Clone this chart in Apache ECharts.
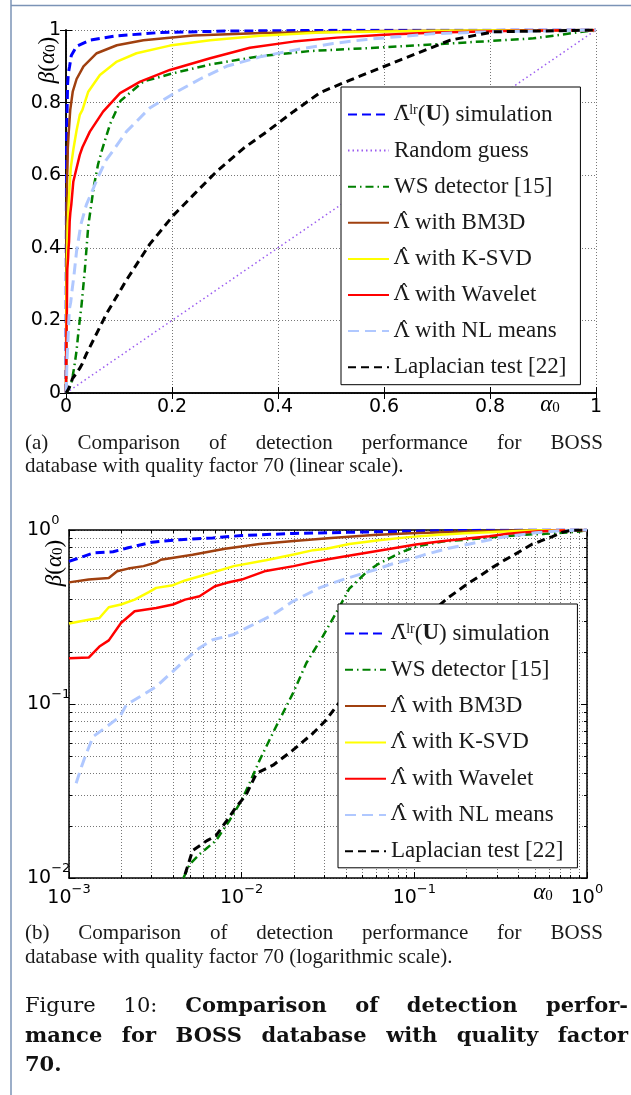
<!DOCTYPE html>
<html>
<head>
<meta charset="utf-8">
<title>Figure 10</title>
<script src="https://cdn.jsdelivr.net/npm/echarts@6/dist/echarts.min.js"></script>
<style>
html, body { margin: 0; padding: 0; background: #fff; }
#chart { position: absolute; left: 0; top: 0; width: 631px; height: 1095px; }
.cap { position: absolute; left: 25px; width: 578px; font-family: "Liberation Serif", serif; font-size: 21px; line-height: 23px; color: #1a1a1a; }
.just { text-align: justify; text-align-last: justify; }
.fig { position: absolute; left: 25px; width: 603px; font-family: "DejaVu Serif", serif; font-size: 21px; line-height: 29px; color: #111; }
.fig b { font-weight: bold; }
</style>
</head>
<body>
<div id="chart"></div>
<div class="cap just" style="top:431px">(a) Comparison of detection performance for BOSS</div>
<div class="cap" style="top:454px">database with quality factor 70 (linear scale).</div>
<div class="cap just" style="top:921px">(b) Comparison of detection performance for BOSS</div>
<div class="cap" style="top:945px">database with quality factor 70 (logarithmic scale).</div>
<div class="fig just" style="top:990px">Figure 10: <b>Comparison of detection perfor-</b></div>
<div class="fig just" style="top:1020px"><b>mance for BOSS database with quality factor</b></div>
<div class="fig" style="top:1049px"><b>70.</b></div>
<script>
// ROC curves, [alpha0, beta(alpha0)]
var simData = [[0,0],[0.001,0.66],[0.0014,0.74],[0.0018,0.75],[0.0022,0.79],[0.003,0.85],[0.0044,0.88],[0.0068,0.90],[0.01,0.93],[0.02,0.955],[0.045,0.972],[0.096,0.984],[0.177,0.993],[0.3,0.997],[0.5,0.999],[1,1]];
var randData = [[0,0],[1,1]];
var wsData = [[0,0],[0.0046,0.01],[0.005,0.012],[0.0057,0.0137],[0.0071,0.0164],[0.0085,0.0214],[0.01,0.028],[0.0111,0.035],[0.0127,0.0475],[0.0158,0.074],[0.0198,0.115],[0.0237,0.172],[0.0295,0.245],[0.0352,0.333],[0.042,0.46],[0.0526,0.57],[0.0605,0.63],[0.067,0.665],[0.083,0.74],[0.103,0.805],[0.146,0.858],[0.2,0.88],[0.272,0.905],[0.366,0.928],[0.46,0.942],[0.567,0.95],[0.725,0.963],[0.882,0.977],[1,1]];
var bm3dData = [[0,0],[0.001,0.5],[0.0013,0.52],[0.0017,0.53],[0.0019,0.58],[0.0022,0.60],[0.0027,0.62],[0.0032,0.65],[0.0034,0.675],[0.0052,0.72],[0.008,0.78],[0.0127,0.83],[0.02,0.865],[0.033,0.90],[0.058,0.936],[0.096,0.958],[0.146,0.972],[0.24,0.985],[0.37,0.992],[0.6,0.997],[1,1]];
var ksvdData = [[0,0],[0.001,0.29],[0.0013,0.305],[0.0015,0.312],[0.0017,0.36],[0.002,0.373],[0.0024,0.398],[0.0029,0.44],[0.0032,0.465],[0.004,0.482],[0.0047,0.513],[0.0065,0.562],[0.009,0.62],[0.0138,0.67],[0.02,0.724],[0.026,0.766],[0.031,0.78],[0.042,0.83],[0.064,0.876],[0.096,0.913],[0.133,0.936],[0.196,0.957],[0.272,0.972],[0.366,0.984],[0.48,0.993],[0.7,0.998],[1,1]];
var wavData = [[0,0],[0.001,0.183],[0.0013,0.185],[0.0015,0.214],[0.0017,0.232],[0.002,0.292],[0.0024,0.341],[0.0032,0.356],[0.004,0.373],[0.0047,0.398],[0.0057,0.416],[0.007,0.475],[0.0082,0.497],[0.01,0.519],[0.0138,0.582],[0.02,0.62],[0.026,0.656],[0.031,0.677],[0.045,0.72],[0.07,0.775],[0.102,0.826],[0.14,0.858],[0.196,0.89],[0.272,0.922],[0.347,0.951],[0.429,0.968],[0.511,0.979],[0.6,0.987],[0.7,0.993],[0.85,0.998],[1,1]];
var nlData = [[0,0],[0.0011,0.035],[0.00118,0.0435],[0.00126,0.052],[0.00138,0.065],[0.00165,0.074],[0.00197,0.0845],[0.00215,0.099],[0.00257,0.11],[0.0032,0.126],[0.004,0.154],[0.0047,0.179],[0.0057,0.21],[0.0068,0.234],[0.0089,0.25],[0.0111,0.279],[0.0152,0.326],[0.0198,0.389],[0.0282,0.465],[0.0385,0.519],[0.06,0.593],[0.075,0.64],[0.0935,0.677],[0.114,0.72],[0.158,0.785],[0.209,0.83],[0.253,0.865],[0.303,0.9],[0.366,0.926],[0.44,0.947],[0.504,0.963],[0.567,0.974],[0.693,0.99],[0.806,0.995],[1,1]];
var lapData = [[0,0],[0.0047,0.0105],[0.0052,0.0144],[0.0063,0.0164],[0.0071,0.0175],[0.0082,0.0214],[0.0093,0.0256],[0.0106,0.03],[0.0122,0.04],[0.0152,0.0445],[0.0198,0.0543],[0.0258,0.0677],[0.0309,0.081],[0.0352,0.0966],[0.039,0.109],[0.077,0.22],[0.114,0.311],[0.158,0.41],[0.203,0.49],[0.24,0.545],[0.284,0.61],[0.335,0.674],[0.379,0.72],[0.429,0.775],[0.48,0.828],[0.536,0.862],[0.63,0.917],[0.725,0.972],[0.806,0.995],[1,1]];

// minor log ticks (mantissas) and decades of each log axis
var minorMant = [2,3,4,5,6,7,8,9];
var xDecades = [0.001, 0.01, 0.1];
var yDecades = [0.01, 0.1];

var serif = '"Liberation Serif", "DejaVu Serif", serif';
var sans = '"DejaVu Sans", sans-serif';

var L_BAR = '\u039B\u0304';
var L_HAT = '\u039B\u0302';
var legendText = {
    sim: '{L|' + L_BAR + '}{sup|lr}{t|(}{bf|U}{t|) simulation}',
    rand: '{t|Random guess}',
    ws: '{t|WS detector [15]}',
    bm3d: '{L|' + L_HAT + '}{t| with BM3D}',
    ksvd: '{L|' + L_HAT + '}{t| with K-SVD}',
    wav: '{L|' + L_HAT + '}{t| with Wavelet}',
    nl: '{L|' + L_HAT + '}{t| with NL means}',
    lap: '{t|Laplacian test [22]}'
};
var legendRich = {
    t: {fontFamily: serif, fontSize: 23, color: '#1a1a1a', lineHeight: 26},
    bf: {fontFamily: serif, fontSize: 23, fontWeight: 'bold', color: '#1a1a1a', lineHeight: 26},
    L: {fontFamily: '"DejaVu Serif", serif', fontSize: 21, color: '#1a1a1a', lineHeight: 26},
    sup: {fontFamily: serif, fontSize: 14, color: '#1a1a1a', padding: [0, 0, 9, 0]}
};

var styles = {
    sim: {color: '#0000ff', width: 3, type: [9, 5]},
    rand: {color: '#9b5cf0', width: 1.5, type: [1.5, 3]},
    ws: {color: '#008000', width: 2.5, type: [8, 4, 1.5, 4]},
    bm3d: {color: '#a0400f', width: 2.5, type: 'solid'},
    ksvd: {color: '#ffff00', width: 2.5, type: 'solid'},
    wav: {color: '#ff0000', width: 2.5, type: 'solid'},
    nl: {color: '#b0c8ff', width: 3, type: [11, 6]},
    lap: {color: '#000000', width: 3, type: [8, 5]}
};
var dataOf = {sim: simData, rand: randData, ws: wsData, bm3d: bm3dData, ksvd: ksvdData, wav: wavData, nl: nlData, lap: lapData};

function positive(d) {
    return d.filter(function (p) { return p[0] > 0 && p[1] > 0; });
}

function makeSeries(key, xi, yi, data) {
    var s = styles[key];
    return {
        name: key, type: 'line', xAxisIndex: xi, yAxisIndex: yi,
        data: data, symbol: 'none', showSymbol: false, clip: true,
        color: s.color,
        lineStyle: {color: s.color, width: s.width, type: s.type},
        animation: false, silent: true
    };
}

var minorX = [], minorY = [];
xDecades.forEach(function (d) { minorMant.forEach(function (m) { minorX.push([d * m, 0.1]); }); });
yDecades.forEach(function (d) { minorMant.forEach(function (m) { minorY.push([0.01, d * m]); }); });

var gridDot = {color: '#777', width: 1, type: [1, 2]};
var minorStyle = {stroke: '#777', lineWidth: 1, lineDash: [1, 2]};
var tickStyle = {stroke: '#000', lineWidth: 1};

function renderMinorX(params, api) {
    var cs = params.coordSys;
    var x = Math.round(api.coord([api.value(0), api.value(1)])[0]) + 0.5;
    var top = cs.y, bot = cs.y + cs.height;
    return {type: 'group', children: [
        {type: 'line', shape: {x1: x, y1: top, x2: x, y2: bot}, style: minorStyle},
        {type: 'line', shape: {x1: x, y1: bot, x2: x, y2: bot - 3}, style: tickStyle},
        {type: 'line', shape: {x1: x, y1: top, x2: x, y2: top + 3}, style: tickStyle}
    ]};
}
function renderMinorY(params, api) {
    var cs = params.coordSys;
    var y = Math.round(api.coord([api.value(0), api.value(1)])[1]) + 0.5;
    var left = cs.x, right = cs.x + cs.width;
    return {type: 'group', children: [
        {type: 'line', shape: {x1: left, y1: y, x2: right, y2: y}, style: minorStyle},
        {type: 'line', shape: {x1: left, y1: y, x2: left + 3, y2: y}, style: tickStyle},
        {type: 'line', shape: {x1: right, y1: y, x2: right - 3, y2: y}, style: tickStyle}
    ]};
}

function powLabel(v) {
    var e = Math.round(Math.log(v) / Math.LN10);
    return '{b|10}{s|' + (e < 0 ? '\u2212' + (-e) : e) + '}';
}
var powRich = {
    b: {fontFamily: sans, fontSize: 19, color: '#000'},
    s: {fontFamily: sans, fontSize: 13, color: '#000', lineHeight: 13, padding: [0, 0, 18, 0]}
};

var axisLine = {show: true, lineStyle: {color: '#000', width: 1.5}};
var inTick = {show: true, inside: true, length: 6, lineStyle: {color: '#000', width: 1}};
var numLabel = {show: true, fontFamily: sans, fontSize: 19, color: '#000', margin: 5};

var keysTop = ['sim', 'rand', 'ws', 'bm3d', 'ksvd', 'wav', 'nl', 'lap'];
var keysBot = ['sim', 'ws', 'bm3d', 'ksvd', 'wav', 'nl', 'lap'];

var series = [];
series.push({type: 'custom', xAxisIndex: 2, yAxisIndex: 2, data: minorX, renderItem: renderMinorX, z: 1, silent: true, animation: false, encode: {x: 0, y: 1}});
series.push({type: 'custom', xAxisIndex: 2, yAxisIndex: 2, data: minorY, renderItem: renderMinorY, z: 1, silent: true, animation: false, encode: {x: 0, y: 1}});
keysTop.forEach(function (k) { series.push(makeSeries(k, 0, 0, dataOf[k])); });
keysBot.forEach(function (k) { series.push(makeSeries(k, 2, 2, positive(dataOf[k]))); });

var betaRich = {
    i: {fontFamily: serif, fontStyle: 'italic', fontSize: 23, color: '#333', lineHeight: 26},
    r: {fontFamily: serif, fontSize: 23, color: '#333', lineHeight: 26},
    sub: {fontFamily: serif, fontSize: 15, color: '#333', lineHeight: 15, padding: [7, 0, 0, 0]}
};
var betaText = '{i|\u03B2}{r|(}{i|\u03B1}{sub|0}{r|)}';
var alphaText = '{i|\u03B1}{sub|0}';

function legendOpt(left, top, pad, gap, keys) {
    return {
        orient: 'vertical', left: left, top: top, padding: pad, itemGap: gap,
        itemWidth: 41, itemHeight: 14, data: keys,
        backgroundColor: '#fff', borderColor: '#000', borderWidth: 1,
        itemStyle: {opacity: 0}, selectedMode: false,
        formatter: function (n) { return legendText[n]; },
        textStyle: {rich: legendRich}
    };
}

var option = {
    backgroundColor: '#fff',
    animation: false,
    textStyle: {fontFamily: sans},
    grid: [
        {left: 66, top: 30, width: 530, height: 363, outerBoundsMode: 'none'},
        {left: 69, top: 530, width: 518, height: 348, outerBoundsMode: 'none'}
    ],
    xAxis: [
        {type: 'value', gridIndex: 0, position: 'bottom', min: 0, max: 1, interval: 0.2,
         axisLine: axisLine, axisTick: inTick, axisLabel: numLabel,
         splitLine: {show: true, lineStyle: gridDot}},
        {type: 'value', gridIndex: 0, position: 'top', min: 0, max: 1, interval: 0.2,
         axisLine: axisLine, axisTick: inTick, axisLabel: {show: false}, splitLine: {show: false}},
        {type: 'log', logBase: 10, gridIndex: 1, position: 'bottom', min: 0.001, max: 1,
         axisLine: axisLine, axisTick: inTick,
         axisLabel: {show: true, formatter: powLabel, rich: powRich, margin: 11},
         splitLine: {show: true, lineStyle: gridDot}, minorTick: {show: false}},
        {type: 'log', logBase: 10, gridIndex: 1, position: 'top', min: 0.001, max: 1,
         axisLine: axisLine, axisTick: inTick, axisLabel: {show: false}, splitLine: {show: false}}
    ],
    yAxis: [
        {type: 'value', gridIndex: 0, position: 'left', min: 0, max: 1, interval: 0.2,
         axisLine: axisLine, axisTick: inTick, axisLabel: numLabel,
         splitLine: {show: true, lineStyle: gridDot}},
        {type: 'value', gridIndex: 0, position: 'right', min: 0, max: 1, interval: 0.2,
         axisLine: axisLine, axisTick: inTick, axisLabel: {show: false}, splitLine: {show: false}},
        {type: 'log', logBase: 10, gridIndex: 1, position: 'left', min: 0.01, max: 1,
         axisLine: axisLine, axisTick: inTick,
         axisLabel: {show: true, formatter: powLabel, rich: powRich, align: 'left', margin: 42},
         splitLine: {show: true, lineStyle: gridDot}},
        {type: 'log', logBase: 10, gridIndex: 1, position: 'right', min: 0.01, max: 1,
         axisLine: axisLine, axisTick: inTick, axisLabel: {show: false}, splitLine: {show: false}}
    ],
    legend: [
        legendOpt(341, 87, [16, 14, 6, 6], 13.1, keysTop),
        legendOpt(338, 604, [18, 14, 5, 6], 13.3, keysBot)
    ],
    graphic: [
        {type: 'line', shape: {x1: 11, y1: 0, x2: 11, y2: 1095}, style: {stroke: '#7b93b6', lineWidth: 1.5}, silent: true},
        {type: 'line', shape: {x1: 11, y1: 5.5, x2: 631, y2: 5.5}, style: {stroke: '#7b93b6', lineWidth: 1.5}, silent: true},
        {type: 'text', x: 48, y: 60, rotation: Math.PI / 2,
         style: {text: betaText, rich: betaRich, align: 'center', verticalAlign: 'middle'}},
        {type: 'text', x: 55, y: 563, rotation: Math.PI / 2,
         style: {text: betaText, rich: betaRich, align: 'center', verticalAlign: 'middle'}},
        {type: 'text', x: 550, y: 405,
         style: {text: alphaText, rich: betaRich, align: 'center', verticalAlign: 'middle'}},
        {type: 'text', x: 543, y: 893,
         style: {text: alphaText, rich: betaRich, align: 'center', verticalAlign: 'middle'}}
    ],
    series: series
};

var myChart = echarts.init(document.getElementById('chart'), null, {renderer: 'canvas'});
myChart.setOption(option);
</script>
</body>
</html>
